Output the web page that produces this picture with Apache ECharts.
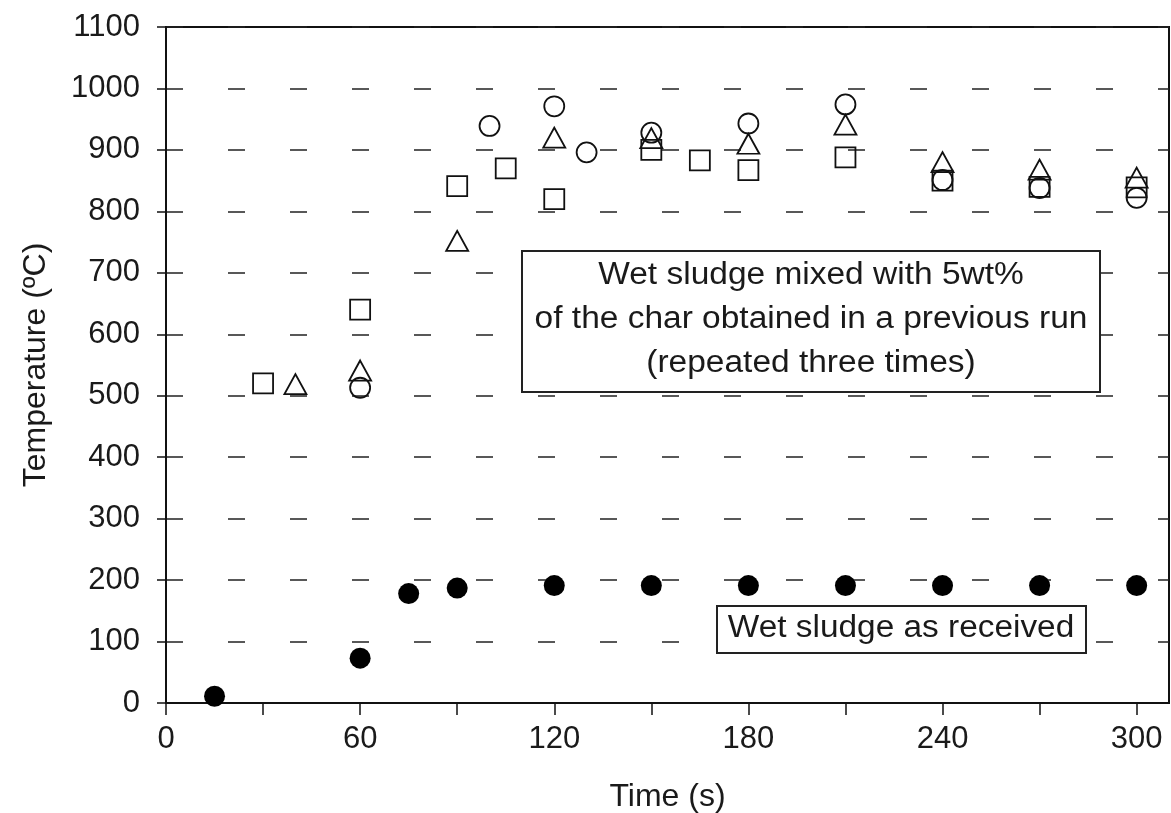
<!DOCTYPE html>
<html>
<head>
<meta charset="utf-8">
<script src="https://cdn.jsdelivr.net/npm/echarts@6/dist/echarts.min.js"></script>
<style>
html,body{margin:0;padding:0;background:#fff;}
#chart{width:1171px;height:813px;}
</style>
</head>
<body>
<div id="chart"></div>
<script>
// ---- data ----
const xTicks = [0, 60, 120, 180, 240, 300];
const yTicks = [0, 100, 200, 300, 400, 500, 600, 700, 800, 900, 1000, 1100];

const timeSquares = [30, 60, 90, 105, 120, 150, 165, 180, 210, 240, 270, 300];
const tempSquares = [520, 640, 841, 870, 820, 900, 883, 867, 888, 850, 840, 839];

const timeTriangles = [40, 60, 90, 120, 150, 180, 210, 240, 270, 300];
const tempTriangles = [519, 541, 752, 920, 919, 910, 941, 880, 868, 855];

const timeCircles = [60, 100, 120, 130, 150, 180, 210, 240, 270, 300];
const tempCircles = [513, 939, 971, 896, 928, 943, 974, 851, 838, 822];

const timeFilled = [15, 60, 75, 90, 120, 150, 180, 210, 240, 270, 300];
const tempFilled = [11, 73, 178, 187, 191, 191, 191, 191, 191, 191, 191];

const xAxisTitle = 'Time (s)';
const yAxisTitle = 'Temperature (ºC)';
const note1 = ['Wet sludge mixed with 5wt%', 'of the char obtained in a previous run', '(repeated three times)'];
const note2 = 'Wet sludge as received';

// ---- build chart ----
const FONT = '"Liberation Sans", Arial, sans-serif';
const zip = (xs, ys) => xs.map((x, i) => [x, ys[i]]);

const chart = echarts.init(document.getElementById('chart'), null, {renderer: 'canvas'});

const openStyle = {color: 'rgba(0,0,0,0)', borderColor: '#111', borderWidth: 1.8, opacity: 1};

const option = {
  animation: false,
  backgroundColor: '#fff',
  grid: {left: 166, right: 2, top: 27, bottom: 110, containLabel: false, outerBoundsMode: 'none',
         show: true, borderColor: '#111', borderWidth: 2, backgroundColor: 'transparent'},
  xAxis: {
    type: 'value', min: 0, max: 310, interval: 30,
    name: xAxisTitle, nameLocation: 'middle', nameGap: 78,
    nameTextStyle: {fontFamily: FONT, fontSize: 32, color: '#1a1a1a'},
    axisLine: {show: true, onZero: false, lineStyle: {color: '#111', width: 2}},
    axisTick: {show: true, length: 12, lineStyle: {color: '#111', width: 1.5}},
    axisLabel: {
      show: true, margin: 21, showMaxLabel: false,
      fontFamily: FONT, fontSize: 31, color: '#1a1a1a',
      formatter: v => (xTicks.indexOf(v) >= 0 ? String(v) : '')
    },
    splitLine: {show: false}
  },
  yAxis: {
    type: 'value', min: 0, max: 1100, interval: 100,
    name: yAxisTitle, nameLocation: 'middle', nameGap: 114,
    nameTextStyle: {fontFamily: FONT, fontSize: 32, color: '#1a1a1a'},
    axisLine: {show: true, onZero: false, lineStyle: {color: '#111', width: 2}},
    axisTick: {show: true, length: 9, lineStyle: {color: '#111', width: 1.5}},
    axisLabel: {
      show: true, margin: 26, fontFamily: FONT, fontSize: 31, color: '#1a1a1a',
      formatter: v => (yTicks.indexOf(v) >= 0 ? String(v) : '')
    },
    splitLine: {show: true, lineStyle: {color: '#222', width: 1.5, type: [17, 45]}}
  },
  series: [
    {type: 'scatter', name: 'squares', symbol: 'rect', symbolSize: 20,
     data: zip(timeSquares, tempSquares), itemStyle: openStyle, z: 3,
     emphasis: {disabled: true}, silent: true},
    {type: 'scatter', name: 'triangles', symbol: 'triangle', symbolSize: [22, 20],
     data: zip(timeTriangles, tempTriangles), itemStyle: openStyle, z: 3,
     emphasis: {disabled: true}, silent: true},
    {type: 'scatter', name: 'circles', symbol: 'circle', symbolSize: 20,
     data: zip(timeCircles, tempCircles), itemStyle: openStyle, z: 3,
     emphasis: {disabled: true}, silent: true},
    {type: 'scatter', name: 'filled', symbol: 'circle', symbolSize: 21,
     data: zip(timeFilled, tempFilled), itemStyle: {color: '#000', opacity: 1}, z: 3,
     emphasis: {disabled: true}, silent: true}
  ],
  graphic: [
    {type: 'rect', shape: {x: 522, y: 251, width: 578, height: 141}, z: 10,
     style: {fill: '#fff', stroke: '#222', lineWidth: 2}},
    {type: 'text', x: 811, y: 319, scaleX: 1.08, z: 11,
     style: {text: note1.join('\n'), font: '31px ' + FONT, fill: '#1a1a1a', align: 'center', verticalAlign: 'middle', lineHeight: 44}},
    {type: 'rect', shape: {x: 717, y: 606, width: 369, height: 47}, z: 10,
     style: {fill: '#fff', stroke: '#222', lineWidth: 2}},
    {type: 'text', x: 901, y: 628, scaleX: 1.077, z: 11,
     style: {text: note2, font: '31px ' + FONT, fill: '#1a1a1a', align: 'center', verticalAlign: 'middle'}}
  ]
};
chart.setOption(option);
</script>
</body>
</html>
